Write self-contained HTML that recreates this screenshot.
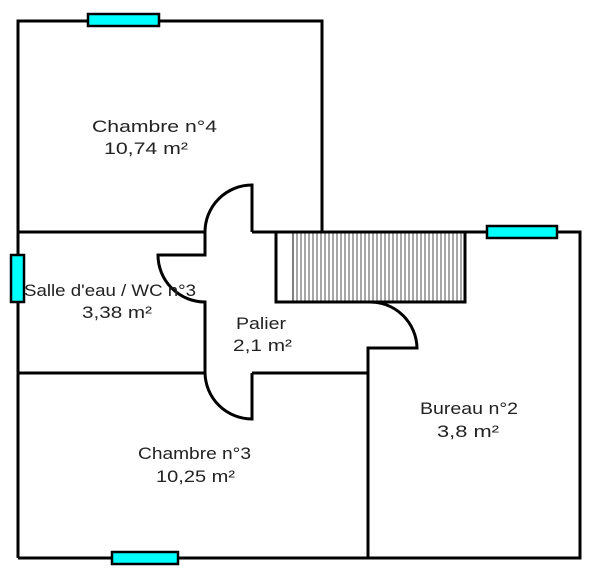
<!DOCTYPE html><html><head><style>body{margin:0;background:#fff}svg{display:block}text{font-family:"Liberation Sans",sans-serif;font-size:17px;fill:#222}</style></head><body>
<svg width="600" height="577" viewBox="0 0 600 577">
<defs><pattern id="h" width="4" height="10" patternUnits="userSpaceOnUse"><line x1="1" y1="0" x2="1" y2="10" stroke="#222" stroke-width="0.8"/></pattern></defs>
<g fill="none" stroke="#000" stroke-width="3">
<path d="M18 558V21H322V232"/>
<path d="M18 232H205M252 232H276"/>
<path d="M252 232V185A47 47 0 0 0 205 232"/>
<path d="M205 232V255H158A47 47 0 0 0 205 302V373"/>
<path d="M18 373H205M252 373H368V348H417A47 47 0 0 0 368 302"/>
<path d="M205 373A47 47 0 0 0 252 419V373"/>
<path d="M368 348V558M18 558H580V232H465"/>
<rect x="276" y="232" width="189" height="70"/>
</g>
<rect x="293" y="233.5" width="170" height="67" fill="url(#h)"/>
<line x1="293" y1="232" x2="293" y2="302" stroke="#000" stroke-width="1"/>
<g fill="#0ff" stroke="#000" stroke-width="2.5">
<rect x="88" y="14" width="71" height="12"/>
<rect x="11" y="255" width="13" height="47"/>
<rect x="487" y="226" width="70" height="12"/>
<rect x="112" y="552" width="66" height="12"/>
</g>
<g lengthAdjust="spacingAndGlyphs">
<text x="92" y="132" textLength="125" lengthAdjust="spacingAndGlyphs">Chambre n°4</text>
<text x="104" y="154" textLength="84" lengthAdjust="spacingAndGlyphs">10,74  m²</text>
<text x="24" y="296" textLength="172" lengthAdjust="spacingAndGlyphs">Salle d'eau / WC n°3</text>
<text x="82" y="318" textLength="70" lengthAdjust="spacingAndGlyphs">3,38  m²</text>
<text x="236" y="329" textLength="50" lengthAdjust="spacingAndGlyphs">Palier</text>
<text x="233" y="351" textLength="59" lengthAdjust="spacingAndGlyphs">2,1  m²</text>
<text x="420" y="414" textLength="98" lengthAdjust="spacingAndGlyphs">Bureau n°2</text>
<text x="437" y="437" textLength="62" lengthAdjust="spacingAndGlyphs">3,8  m²</text>
<text x="138" y="459" textLength="113" lengthAdjust="spacingAndGlyphs">Chambre n°3</text>
<text x="156" y="482" textLength="79" lengthAdjust="spacingAndGlyphs">10,25  m²</text>
</g>
</svg></body></html>
